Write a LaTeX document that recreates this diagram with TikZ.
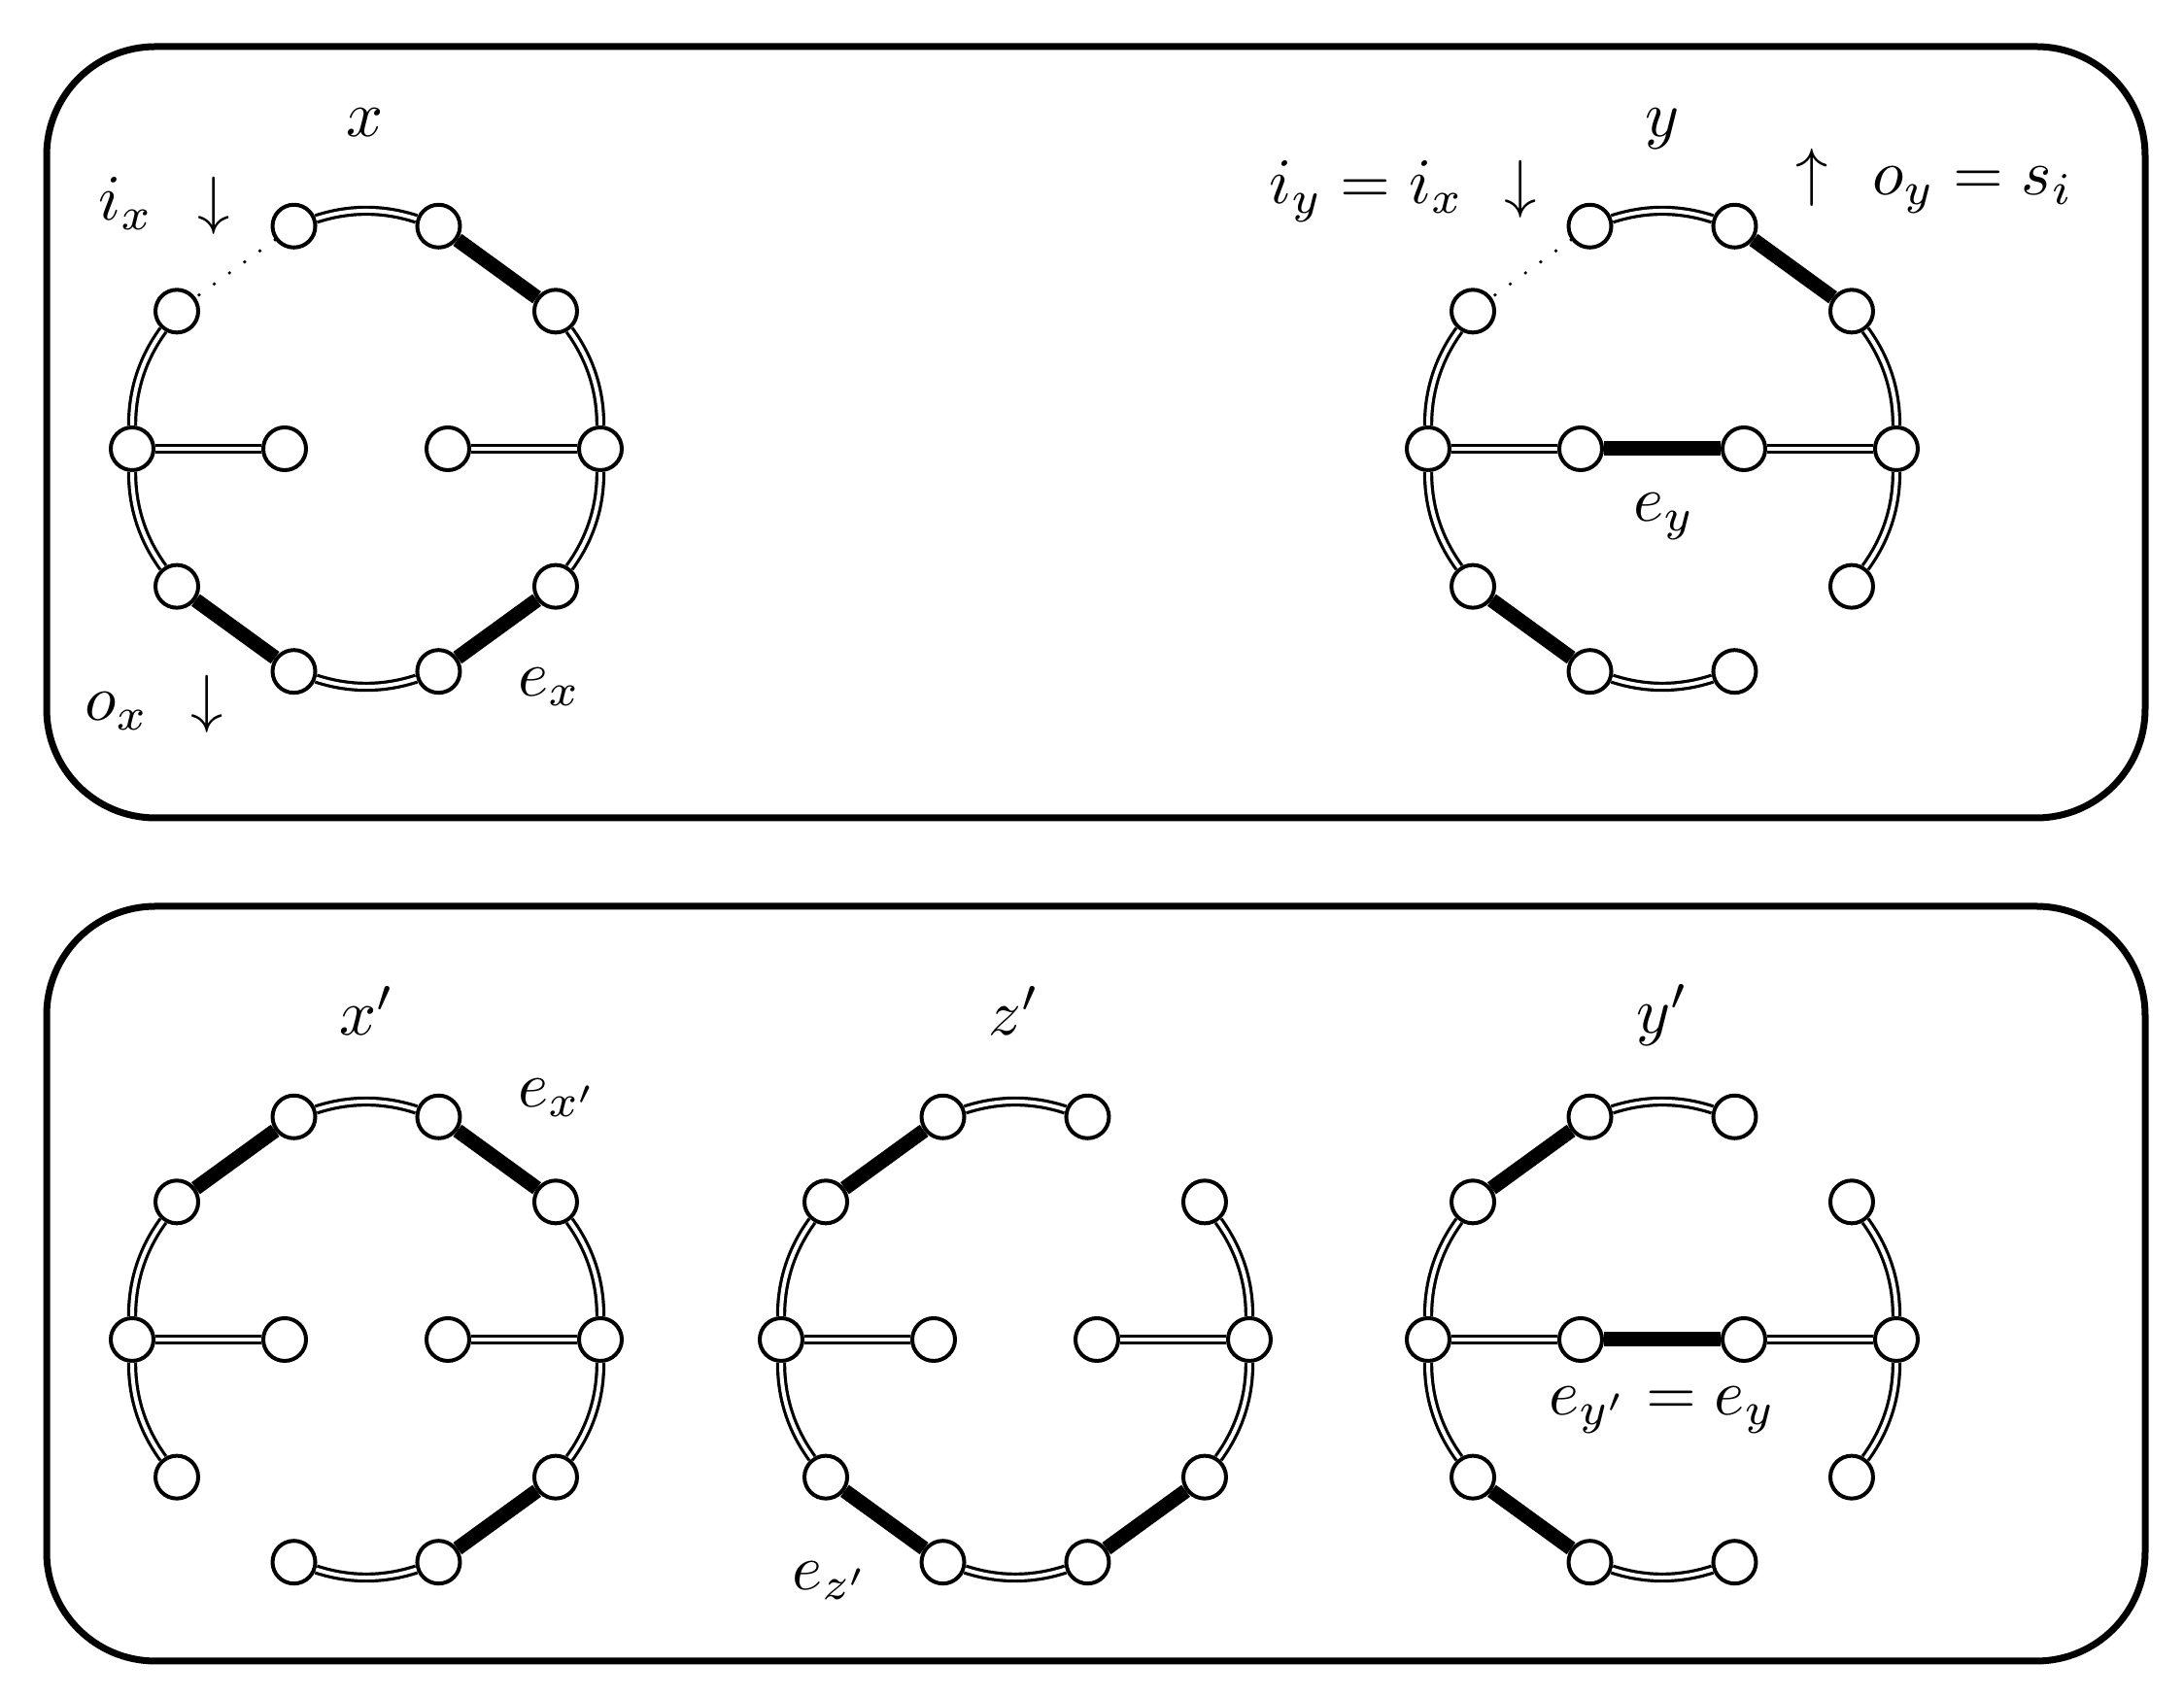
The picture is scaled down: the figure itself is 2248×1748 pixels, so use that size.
\documentclass[tikz,border=0pt]{standalone}
\usetikzlibrary{calc}
\tikzset{
 vtx/.style={circle,draw,fill=white,line width=0.6pt,minimum size=6.6pt,inner sep=0pt},
 dbl/.style={double,line width=0.48pt,double distance=0.6pt},
 dblarc/.style={dbl,bend right=18,looseness=0.9},
 thk/.style={line width=2.25pt},
 dots/.style={line width=0.55pt,line cap=round,dash pattern=on 0pt off 2.9pt},
 frame/.style={line width=1.05pt,rounded corners=16.8pt},
 lbl/.style={anchor=base,inner sep=0pt},
 lblw/.style={anchor=base west,inner sep=0pt},
}
\newcommand\makering[3]{%
 \foreach \k in {0,...,9}{\node[vtx] (#1\k) at ($(#2,#3)+(36*\k:241)$) {};}
 \node[vtx] (#1L) at ($(#2,#3)+(-84,0)$) {};
 \node[vtx] (#1R) at ($(#2,#3)+(84,0)$) {};
}
\begin{document}
\begin{tikzpicture}[x=0.15pt,y=0.15pt]
\useasboundingbox (0,0) rectangle (2248,1748);
\fill[white] (0,0) rectangle (2248,1748);
% frames
\draw[frame] (48,906) rectangle (2208,1700);
\draw[frame] (48,38) rectangle (2208,815);
% graph x
\makering{a}{377}{1286}
\draw[dblarc] (a2) to (a3);
\draw[thk] (a1) -- (a2);
\draw[dblarc] (a0) to (a1);
\draw[dblarc] (a9) to (a0);
\draw[thk] (a8) -- (a9);
\draw[dblarc] (a7) to (a8);
\draw[thk] (a6) -- (a7);
\draw[dblarc] (a5) to (a6);
\draw[dblarc] (a4) to (a5);
\draw[dots] (a3) -- (a4);
\draw[dbl] (a5) -- (aL);
\draw[dbl] (aR) -- (a0);
% graph y
\makering{b}{1711}{1286}
\draw[dblarc] (b2) to (b3);
\draw[thk] (b1) -- (b2);
\draw[dblarc] (b0) to (b1);
\draw[dblarc] (b9) to (b0);
\draw[dblarc] (b7) to (b8);
\draw[thk] (b6) -- (b7);
\draw[dblarc] (b5) to (b6);
\draw[dblarc] (b4) to (b5);
\draw[dots] (b3) -- (b4);
\draw[dbl] (b5) -- (bL);
\draw[thk] (bL) -- (bR);
\draw[dbl] (bR) -- (b0);
% graph x'
\makering{c}{377}{369}
\draw[thk] (c3) -- (c4);
\draw[dblarc] (c2) to (c3);
\draw[thk] (c1) -- (c2);
\draw[dblarc] (c0) to (c1);
\draw[dblarc] (c9) to (c0);
\draw[thk] (c8) -- (c9);
\draw[dblarc] (c7) to (c8);
\draw[dblarc] (c5) to (c6);
\draw[dblarc] (c4) to (c5);
\draw[dbl] (c5) -- (cL);
\draw[dbl] (cR) -- (c0);
% graph z'
\makering{d}{1045}{369}
\draw[thk] (d3) -- (d4);
\draw[dblarc] (d2) to (d3);
\draw[dblarc] (d0) to (d1);
\draw[dblarc] (d9) to (d0);
\draw[thk] (d8) -- (d9);
\draw[dblarc] (d7) to (d8);
\draw[thk] (d6) -- (d7);
\draw[dblarc] (d5) to (d6);
\draw[dblarc] (d4) to (d5);
\draw[dbl] (d5) -- (dL);
\draw[dbl] (dR) -- (d0);
% graph y'
\makering{f}{1711}{369}
\draw[thk] (f3) -- (f4);
\draw[dblarc] (f2) to (f3);
\draw[dblarc] (f0) to (f1);
\draw[dblarc] (f9) to (f0);
\draw[dblarc] (f7) to (f8);
\draw[thk] (f6) -- (f7);
\draw[dblarc] (f5) to (f6);
\draw[dblarc] (f4) to (f5);
\draw[dbl] (f5) -- (fL);
\draw[thk] (fL) -- (fR);
\draw[dbl] (fR) -- (f0);
% labels
\node[lbl] (tx) at (376,1607) {$x$};
\node[lbl] (ty) at (1711,1607) {$y$};
\node[lblw] (tix) at (100,1521) {$i_x$};
\node[lbl] (tarr1) at (220,1519) {$\downarrow$};
\node[lblw] (tox) at (86,1006) {$o_x$};
\node[lbl] (tarr2) at (213,1006) {$\downarrow$};
\node[lblw] (tex) at (532,1031) {$e_x$};
\node[lblw] (tiy) at (1305,1538) {$i_y = i_x$};
\node[lbl] (tarr3) at (1565,1536) {$\downarrow$};
\node[lbl] (tarr4) at (1865,1548) {$\uparrow$};
\node[lblw] (toy) at (1926,1547) {$o_y = s_i$};
\node[lblw] (tey) at (1680,1211) {$e_y$};
\node[lbl] (txp) at (378,682) {$x'$};
\node[lbl] (tzp) at (1044,682) {$z'$};
\node[lbl] (typ) at (1711,684) {$y'$};
\node[lblw] (texp) at (532,608) {$e_{x'}$};
\node[lblw] (tezp) at (814,111) {$e_{z'}$};
\node[lbl] (teyp) at (1711,291) {$e_{y'} = e_y$};
\end{tikzpicture}
\end{document}
